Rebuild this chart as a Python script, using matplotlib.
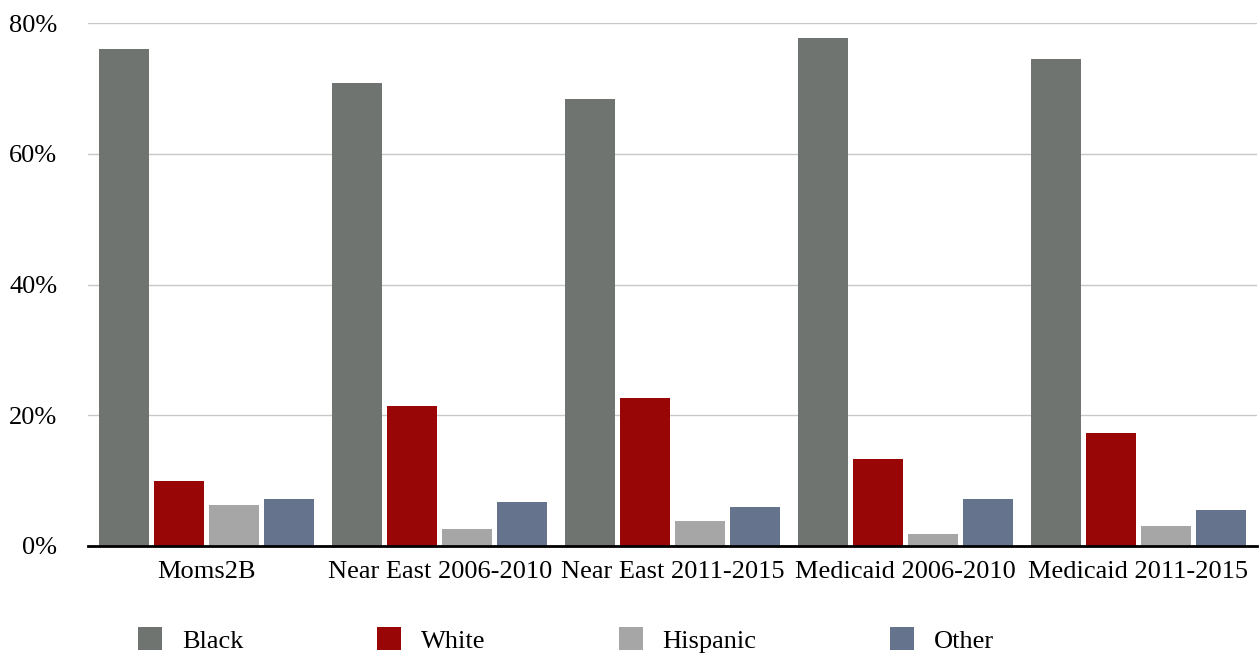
import numpy as np
import matplotlib.pyplot as plt
from matplotlib.ticker import FuncFormatter

# Share of births by race, per population
CATEGORIES = ["Moms2B", "Near East 2006-2010", "Near East 2011-2015",
              "Medicaid 2006-2010", "Medicaid 2011-2015"]
BLACK = [76.0, 70.8, 68.4, 77.7, 74.5]
WHITE = [9.9, 21.4, 22.6, 13.3, 17.3]
HISPANIC = [6.3, 2.6, 3.8, 1.8, 3.1]
OTHER = [7.2, 6.7, 6.0, 7.2, 5.5]

SERIES = ["Black", "White", "Hispanic", "Other"]
COLORS = ["#6f7471", "#990606", "#a6a6a6", "#66738c"]

plt.rcParams['font.family'] = ['Liberation Serif', 'DejaVu Serif']

fig = plt.figure(figsize=(12.6, 6.55), dpi=100)
ax = fig.add_axes([88 / 1260, 1 - 546 / 655, (1257 - 88) / 1260, (546 - 23) / 655])

x = np.arange(len(CATEGORIES))
step = 0.2366
width = 0.215
for i, (name, vals, col) in enumerate(zip(SERIES, [BLACK, WHITE, HISPANIC, OTHER], COLORS)):
    ax.bar(x + (i - 1.5) * step, vals, width=width, color=col, label=name, zorder=3)

ax.set_xlim(-0.51, 4.51)
ax.set_ylim(0, 80)
ax.set_yticks([0, 20, 40, 60, 80])
ax.yaxis.set_major_formatter(FuncFormatter(lambda v, p: f"{v:.0f}%"))
ax.set_xticks(x)
ax.set_xticklabels(CATEGORIES)
ax.tick_params(axis='y', length=0, pad=22, labelsize=19)
ax.tick_params(axis='x', length=0, pad=11, labelsize=19)

ax.grid(axis='y', color='#c8c8c8', linewidth=1.0, zorder=0)
for side in ['top', 'right', 'left']:
    ax.spines[side].set_visible(False)
ax.spines['bottom'].set_linewidth(2)
ax.spines['bottom'].set_color('black')
ax.spines['bottom'].set_zorder(4)

fig.legend(loc='center left', bbox_to_anchor=(138 / 1260, 1 - 640 / 655),
           ncol=4, frameon=False, fontsize=19, borderpad=0, borderaxespad=0,
           handlelength=0.92, handleheight=0.92, handletextpad=0.75,
           columnspacing=5.05)

fig.savefig("out.png", dpi=100)
